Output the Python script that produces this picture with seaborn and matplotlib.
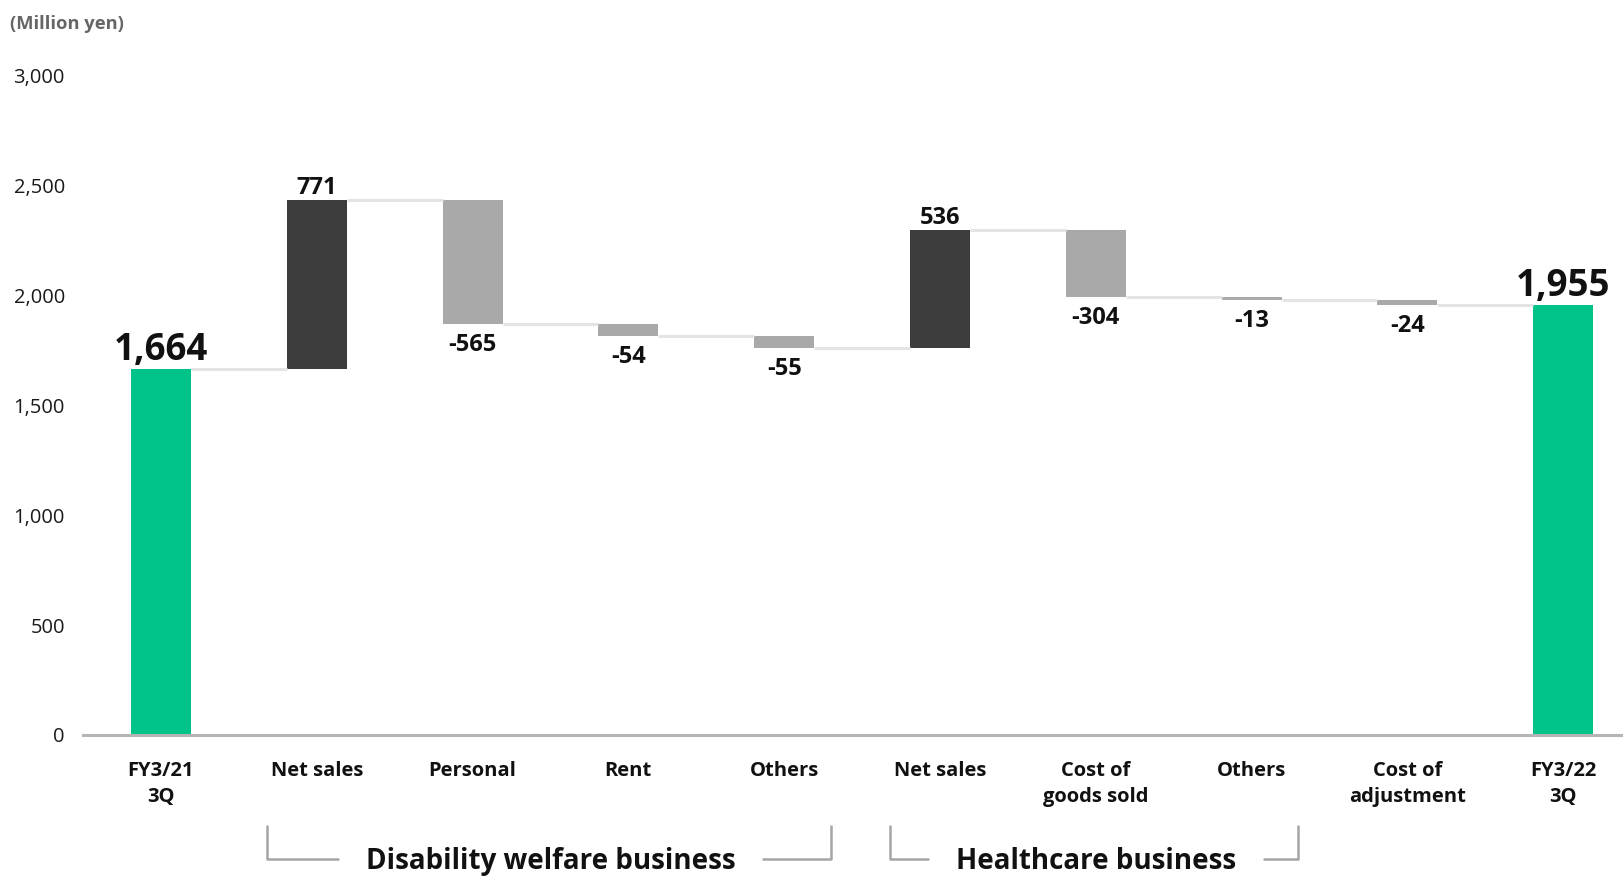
import numpy as np
import pandas as pd
import matplotlib
matplotlib.use("Agg")
import matplotlib.pyplot as plt
import matplotlib.transforms as mtransforms
import seaborn as sns

# ---- data ---------------------------------------------------------------
keys = ["start", "dw_sales", "dw_personal", "dw_rent", "dw_others",
        "hc_sales", "hc_cogs", "hc_others", "adjust", "end"]
tick_labels = ["FY3/21\n3Q", "Net sales", "Personal", "Rent", "Others",
               "Net sales", "Cost of\ngoods sold", "Others", "Cost of\nadjustment",
               "FY3/22\n3Q"]
kinds = ["total", "delta", "delta", "delta", "delta",
         "delta", "delta", "delta", "delta", "total"]
values = [1664, 771, -565, -54, -55, 536, -304, -13, -24, 1955]
value_labels = ["1,664", "771", "-565", "-54", "-55", "536", "-304", "-13", "-24", "1,955"]
groups = [("Disability welfare business", 1, 4), ("Healthcare business", 5, 7)]
y_ticks = [0, 500, 1000, 1500, 2000, 2500, 3000]

# ---- waterfall geometry from the values ----------------------------------
bottoms, heights, levels = [], [], []
running = 0
for kind, v in zip(kinds, values):
    if kind == "total":
        bottoms.append(0)
        heights.append(v)
        running = v
    else:
        start = running
        running = running + v
        bottoms.append(min(start, running))
        heights.append(abs(v))
    levels.append(running)

df = pd.DataFrame({"key": keys, "kind": kinds, "value": values,
                   "bottom": bottoms, "height": heights})
df["cls"] = np.where(df["kind"] == "total", "total",
                     np.where(df["value"] >= 0, "up", "down"))

colors = {"total": "#00C389", "up": "#3C3C3C", "down": "#A9A9A9"}

sns.set_theme(style="white")
plt.rcParams["font.family"] = ["Open Sans", "DejaVu Sans"]

fig = plt.figure(figsize=(16.24, 8.76), dpi=100)
ax = fig.add_axes([0.0511, 0.161, 0.9489, 0.7527])

bar_w = 0.385
for cls, sub in df.groupby("cls"):
    sns.barplot(data=sub, x="key", y="height", order=keys, bottom=sub["bottom"].values,
                color=colors[cls], saturation=1, width=bar_w, errorbar=None,
                linewidth=0, ax=ax)

# connectors between consecutive bars
for i in range(len(keys) - 1):
    ax.plot([i + bar_w / 2, i + 1 - bar_w / 2], [levels[i], levels[i]],
            color="#E4E4E4", lw=2.2, solid_capstyle="butt", zorder=1)

# value labels
for i, (kind, v, lab) in enumerate(zip(kinds, values, value_labels)):
    top = bottoms[i] + heights[i]
    if kind == "total":
        ax.annotate(lab, (i, top), xytext=(0, 6.5), textcoords="offset points",
                    ha="center", va="baseline", fontsize=26.5, fontweight="bold",
                    color="#111111")
    elif v >= 0:
        ax.annotate(lab, (i, top), xytext=(0, 4.5), textcoords="offset points",
                    ha="center", va="baseline", fontsize=17, fontweight="bold",
                    color="#111111")
    else:
        ax.annotate(lab, (i, bottoms[i]), xytext=(0, -6.3), textcoords="offset points",
                    ha="center", va="top", fontsize=17, fontweight="bold",
                    color="#111111")

ax.set_xlim(-0.5, 9.39)
ax.set_ylim(0, 3000)
ax.set_yticks(y_ticks)
ax.set_yticklabels([f"{t:,}" for t in y_ticks], fontsize=14.5, color="#1a1a1a")
ax.set_xticks(range(len(keys)))
ax.set_xticklabels(tick_labels, fontsize=14.5, fontweight="bold", color="#111111",
                   linespacing=1.4)
ax.tick_params(axis="y", length=0, pad=13)
ax.tick_params(axis="x", length=0, pad=18.5)
ax.set_xlabel("")
ax.set_ylabel("")
for side in ["left", "right", "top"]:
    ax.spines[side].set_visible(False)
ax.spines["bottom"].set_color("#B5B5B5")
ax.spines["bottom"].set_linewidth(2.2)

# group brackets under the category labels
trans = mtransforms.blended_transform_factory(ax.transData, fig.transFigure)
y_top, y_bot = 0.0571, 0.0195
gap_px = 28
renderer = fig.canvas.get_renderer()
inv = ax.transData.inverted()
for name, g0, g1 in groups:
    x0, x1 = g0 - 0.32, g1 + 0.3
    t = ax.text((g0 + g1) / 2, 0.017, name, transform=trans, ha="center", va="center",
                fontsize=20, fontweight="bold", color="#111111")
    bb = t.get_window_extent(renderer=renderer)
    left_end = inv.transform((bb.x0 - gap_px, 0))[0]
    right_start = inv.transform((bb.x1 + gap_px, 0))[0]
    ax.plot([x0, x0, left_end], [y_top, y_bot, y_bot], transform=trans,
            color="#A5A5A5", lw=1.8, clip_on=False)
    ax.plot([right_start, x1, x1], [y_bot, y_bot, y_top], transform=trans,
            color="#A5A5A5", lw=1.8, clip_on=False)

fig.text(10 / 1624, 1 - 24 / 876, "(Million yen)", ha="left", va="center",
         fontsize=13.2, fontweight="bold", color="#666666")

fig.savefig("out.png", dpi=100)
